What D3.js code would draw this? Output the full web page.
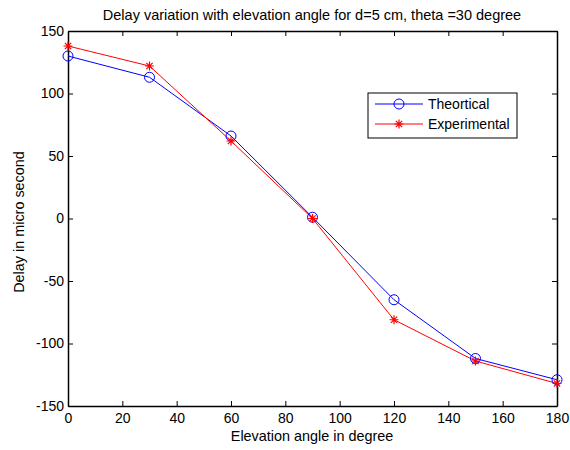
<!DOCTYPE html>
<html>
<head>
<meta charset="utf-8">
<script src="https://cdn.jsdelivr.net/npm/d3@7"></script>
<style>
  body { margin: 0; background: #fff; }
  svg { font-family: "Liberation Sans", Arial, sans-serif; }
</style>
</head>
<body>
<svg id="chart"></svg>
<script>
// data
let angles = [0, 30, 60, 90, 120, 150, 180];
let theoretical = [130, 113, 66, 1, -65, -112, -129];
let experimental = [138, 122, 62, 0, -81, -114, -132];
let xTicks = [0, 20, 40, 60, 80, 100, 120, 140, 160, 180];
let yTicks = [-150, -100, -50, 0, 50, 100, 150];

let w = 570, h = 450;
let margin = {top: 31, right: 13, bottom: 44, left: 68};

let svg = d3.select('#chart')
    .attr('width', w)
    .attr('height', h);

let xScale = d3.scaleLinear()
    .domain([0, 180])
    .range([margin.left, w - margin.right]);

let yScale = d3.scaleLinear()
    .domain([-150, 150])
    .range([h - margin.bottom, margin.top]);

// plain hyphen for negatives, like the original
let fmt = d => String(d);

// axes, ticks pointing inward on all four sides
let tick = 5;
let axisBottomG = svg.append('g')
    .attr('transform', `translate(0, ${h - margin.bottom})`)
    .call(d3.axisBottom(xScale).tickValues(xTicks).tickFormat(fmt).tickSizeInner(-tick).tickSizeOuter(0).tickPadding(7));
let axisTopG = svg.append('g')
    .attr('transform', `translate(0, ${margin.top})`)
    .call(d3.axisTop(xScale).tickValues(xTicks).tickSizeInner(-tick).tickSizeOuter(0).tickFormat(''));
let axisLeftG = svg.append('g')
    .attr('transform', `translate(${margin.left}, 0)`)
    .call(d3.axisLeft(yScale).tickValues(yTicks).tickFormat(fmt).tickSizeInner(-tick).tickSizeOuter(0).tickPadding(4));
let axisRightG = svg.append('g')
    .attr('transform', `translate(${w - margin.right}, 0)`)
    .call(d3.axisRight(yScale).tickValues(yTicks).tickSizeInner(-tick).tickSizeOuter(0).tickFormat(''));

[axisBottomG, axisTopG, axisLeftG, axisRightG].forEach(g => {
    g.select('.domain').attr('stroke', '#000').attr('stroke-width', 1.5);
    g.selectAll('.tick line').attr('stroke', '#000');
    g.selectAll('.tick text').attr('font-size', 14).attr('fill', '#000')
        .attr('font-family', '"Liberation Sans", Arial, sans-serif');
});

// series
let line = d3.line()
    .x((d, i) => xScale(angles[i]))
    .y(d => yScale(d));

svg.append('path')
    .datum(theoretical)
    .attr('d', line)
    .attr('fill', 'none')
    .attr('stroke', '#0000ff')
    .attr('stroke-width', 1);

svg.append('path')
    .datum(experimental)
    .attr('d', line)
    .attr('fill', 'none')
    .attr('stroke', '#ff0000')
    .attr('stroke-width', 1);

function star(g, x, y, s) {
    let p = `M${x - s},${y}H${x + s}M${x},${y - s}V${y + s}` +
        `M${x - s * 0.7},${y - s * 0.7}L${x + s * 0.7},${y + s * 0.7}` +
        `M${x - s * 0.7},${y + s * 0.7}L${x + s * 0.7},${y - s * 0.7}`;
    g.append('path').attr('d', p).attr('stroke', '#ff0000').attr('stroke-width', 1.2).attr('fill', 'none');
}

svg.selectAll('.circ')
    .data(theoretical)
    .enter()
    .append('circle')
    .attr('cx', (d, i) => xScale(angles[i]))
    .attr('cy', d => yScale(d))
    .attr('r', 5)
    .attr('fill', 'none')
    .attr('stroke', '#0000ff')
    .attr('stroke-width', 1);

let stars = svg.append('g');
experimental.forEach((d, i) => star(stars, xScale(angles[i]), yScale(d), 4.5));

// title and axis labels
svg.append('text')
    .attr('x', 312)
    .attr('y', 20)
    .attr('text-anchor', 'middle')
    .attr('font-size', 14.5)
    .text('Delay variation with elevation angle for d=5 cm, theta =30 degree');

svg.append('text')
    .attr('x', 312)
    .attr('y', 441)
    .attr('text-anchor', 'middle')
    .attr('font-size', 14.4)
    .text('Elevation angle in degree');

svg.append('text')
    .attr('transform', `translate(24, 222) rotate(-90)`)
    .attr('text-anchor', 'middle')
    .attr('font-size', 14.4)
    .text('Delay in micro second');

// legend
let legend = svg.append('g');
legend.append('rect')
    .attr('x', 368).attr('y', 93)
    .attr('width', 149).attr('height', 45)
    .attr('fill', '#fff').attr('stroke', '#000').attr('stroke-width', 1);

legend.append('line').attr('x1', 375).attr('x2', 423).attr('y1', 104).attr('y2', 104)
    .attr('stroke', '#0000ff');
legend.append('circle').attr('cx', 399).attr('cy', 104).attr('r', 5)
    .attr('fill', 'none').attr('stroke', '#0000ff');
legend.append('text').attr('x', 428).attr('y', 109).attr('font-size', 14).text('Theortical');

legend.append('line').attr('x1', 375).attr('x2', 423).attr('y1', 124).attr('y2', 124)
    .attr('stroke', '#ff0000');
star(legend, 399, 124, 4.5);
legend.append('text').attr('x', 428).attr('y', 129).attr('font-size', 14).text('Experimental');
</script>
</body>
</html>
